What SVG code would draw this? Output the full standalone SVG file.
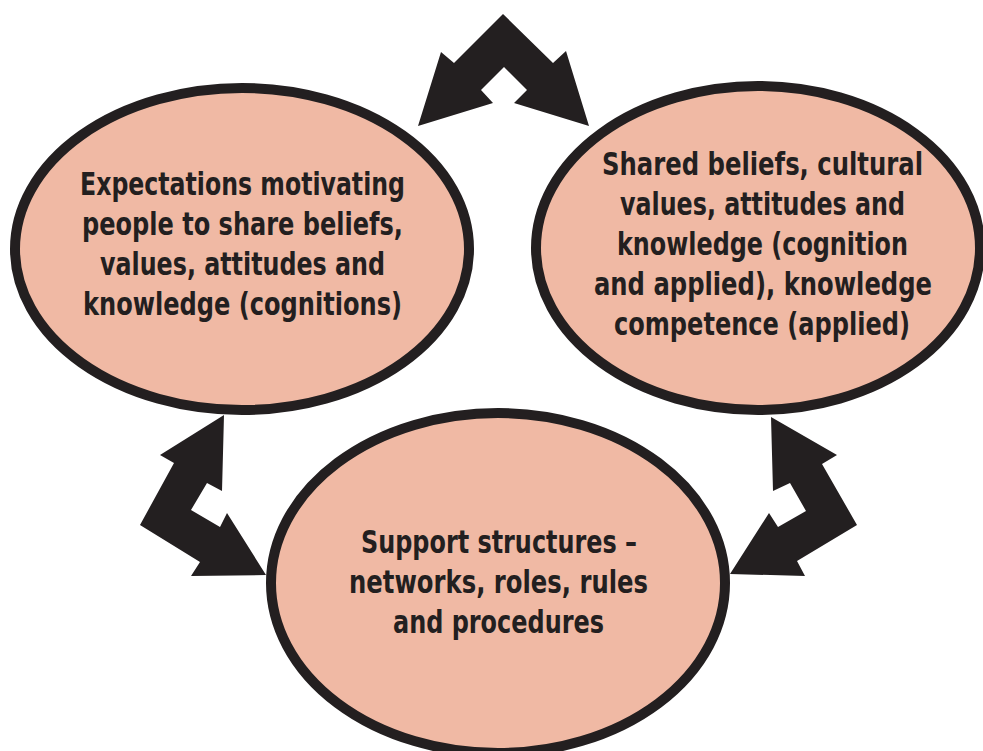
<svg xmlns="http://www.w3.org/2000/svg" width="983" height="751" viewBox="0 0 983 751">
<style>
.node{fill:#f0b9a4;stroke:#231f20;stroke-width:10}
.arrow{fill:#231f20;stroke:none}
.lbl{font-family:"Liberation Sans Narrow","DejaVu Sans Condensed","Liberation Sans",sans-serif;font-weight:bold;font-size:32px;fill:#231f20}
</style>
<rect width="983" height="751" fill="#ffffff"/>
<g id="connectors">
<path class="arrow" d="M503,14 L553,63 L566,51 L589,126 L514,103 L527,90 L504,67 L481,90 L493,103 L418,126 L441,52 L454,63 Z"/>
<path class="arrow" d="M224,415 L222,491 L207,483 L191,510 L220,527 L227,513 L266,575 L191,576 L200,562 L140,525 L174,463 L160,455 Z"/>
<path class="arrow" d="M771,417 L837,455 L822,464 L857,525 L797,561 L805,576 L730,574 L769,513 L778,527 L806,511 L790,483 L773,491 Z"/>
</g>
<g id="node-expectations">
<ellipse class="node" cx="242" cy="249" rx="227" ry="161"/>
<text class="lbl" x="80" y="195" textLength="325" lengthAdjust="spacingAndGlyphs">Expectations motivating</text>
<text class="lbl" x="82" y="235" textLength="321" lengthAdjust="spacingAndGlyphs">people to share beliefs,</text>
<text class="lbl" x="100" y="275" textLength="285" lengthAdjust="spacingAndGlyphs">values, attitudes and</text>
<text class="lbl" x="83" y="315" textLength="319" lengthAdjust="spacingAndGlyphs">knowledge (cognitions)</text>
</g>
<g id="node-shared">
<ellipse class="node" cx="758" cy="248" rx="222" ry="162"/>
<text class="lbl" x="602" y="175" textLength="321" lengthAdjust="spacingAndGlyphs">Shared beliefs, cultural</text>
<text class="lbl" x="620" y="215" textLength="285" lengthAdjust="spacingAndGlyphs">values, attitudes and</text>
<text class="lbl" x="617" y="255" textLength="291" lengthAdjust="spacingAndGlyphs">knowledge (cognition</text>
<text class="lbl" x="594" y="295" textLength="338" lengthAdjust="spacingAndGlyphs">and applied), knowledge</text>
<text class="lbl" x="614" y="335" textLength="296" lengthAdjust="spacingAndGlyphs">competence (applied)</text>
</g>
<g id="node-support">
<ellipse class="node" cx="498" cy="583" rx="227" ry="170"/>
<text class="lbl" x="361" y="553" textLength="276" lengthAdjust="spacingAndGlyphs">Support structures –</text>
<text class="lbl" x="349" y="593" textLength="299" lengthAdjust="spacingAndGlyphs">networks, roles, rules</text>
<text class="lbl" x="393" y="633" textLength="211" lengthAdjust="spacingAndGlyphs">and procedures</text>
</g>
</svg>
